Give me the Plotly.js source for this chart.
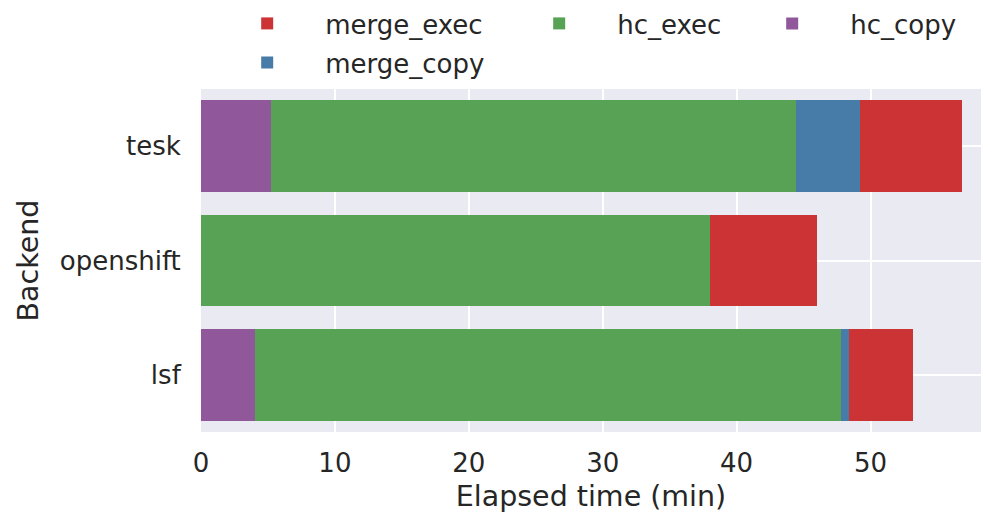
<!DOCTYPE html>
<html>
<head>
<meta charset="utf-8">
<script src="https://cdn.plot.ly/plotly-3.0.1.min.js"></script>
<style>html,body{margin:0;padding:0;background:#fff;}#chart{width:981px;height:513px;}</style>
</head>
<body>
<div id="chart"></div>
<script>
// Data (minutes)
const backends = ['lsf', 'openshift', 'tesk'];
const hcCopy    = [4.0, 0.0, 5.2];
const hcExec    = [43.8, 38.0, 39.2];
const mergeCopy = [0.6, 0.0, 4.8];
const mergeExec = [4.8, 8.0, 7.6];
const xTicks = [0, 10, 20, 30, 40, 50];

const colors = {
  merge_exec: '#cb3335',
  merge_copy: '#477ca8',
  hc_exec: '#58a256',
  hc_copy: '#90589a'
};

function bar(name, vals, rank, legendId, lw) {
  const t = {
    type: 'bar', orientation: 'h', name: name,
    y: backends, x: vals,
    marker: {color: colors[name], line: {width: 0}},
    legendrank: rank,
    legend: legendId,
    hoverinfo: 'x+name'
  };
  if (lw) t.legendwidth = lw;
  return t;
}

const data = [
  bar('hc_copy', hcCopy, 3, 'legend', 110),
  bar('hc_exec', hcExec, 2, 'legend', 112),
  bar('merge_copy', mergeCopy, 4, 'legend2', null),
  bar('merge_exec', mergeExec, 1, 'legend', 171)
];

const font = {family: 'DejaVu Sans', color: '#262626'};
const legendBase = {
  orientation: 'h',
  traceorder: 'normal',
  x: 0.0105, xanchor: 'left',
  yanchor: 'top',
  itemwidth: 106,
  font: Object.assign({size: 26}, font),
  bgcolor: 'rgba(0,0,0,0)'
};

const layout = {
  width: 981, height: 513,
  margin: {l: 201, r: 0, t: 88, b: 81},
  paper_bgcolor: '#ffffff',
  plot_bgcolor: '#eaeaf2',
  barmode: 'stack',
  bargap: 0.2,
  font: Object.assign({size: 26}, font),
  showlegend: true,
  legend: Object.assign({}, legendBase, {y: 1.261}),
  legend2: Object.assign({}, legendBase, {y: 1.142}),
  xaxis: {
    range: [0, 58.25],
    tickvals: xTicks,
    ticktext: xTicks.map(String),
    showgrid: true, gridcolor: '#ffffff', gridwidth: 2,
    zeroline: false, showline: false,
    ticks: 'outside', ticklen: 8, tickcolor: 'rgba(0,0,0,0)',
    tickfont: Object.assign({size: 26}, font),
    title: {text: 'Elapsed time (min)', font: Object.assign({size: 28.5}, font), standoff: 10},
    automargin: false
  },
  yaxis: {
    type: 'category',
    categoryorder: 'array', categoryarray: backends,
    range: [-0.5, 2.5],
    showgrid: true, gridcolor: '#ffffff', gridwidth: 2,
    zeroline: false, showline: false,
    ticks: 'outside', ticklen: 14, tickcolor: 'rgba(0,0,0,0)',
    tickfont: Object.assign({size: 26}, font),
    title: {text: 'Backend', font: Object.assign({size: 28.5}, font), standoff: 12},
    automargin: false
  }
};

Plotly.newPlot('chart', data, layout, {displayModeBar: false, staticPlot: true});
</script>
</body>
</html>
